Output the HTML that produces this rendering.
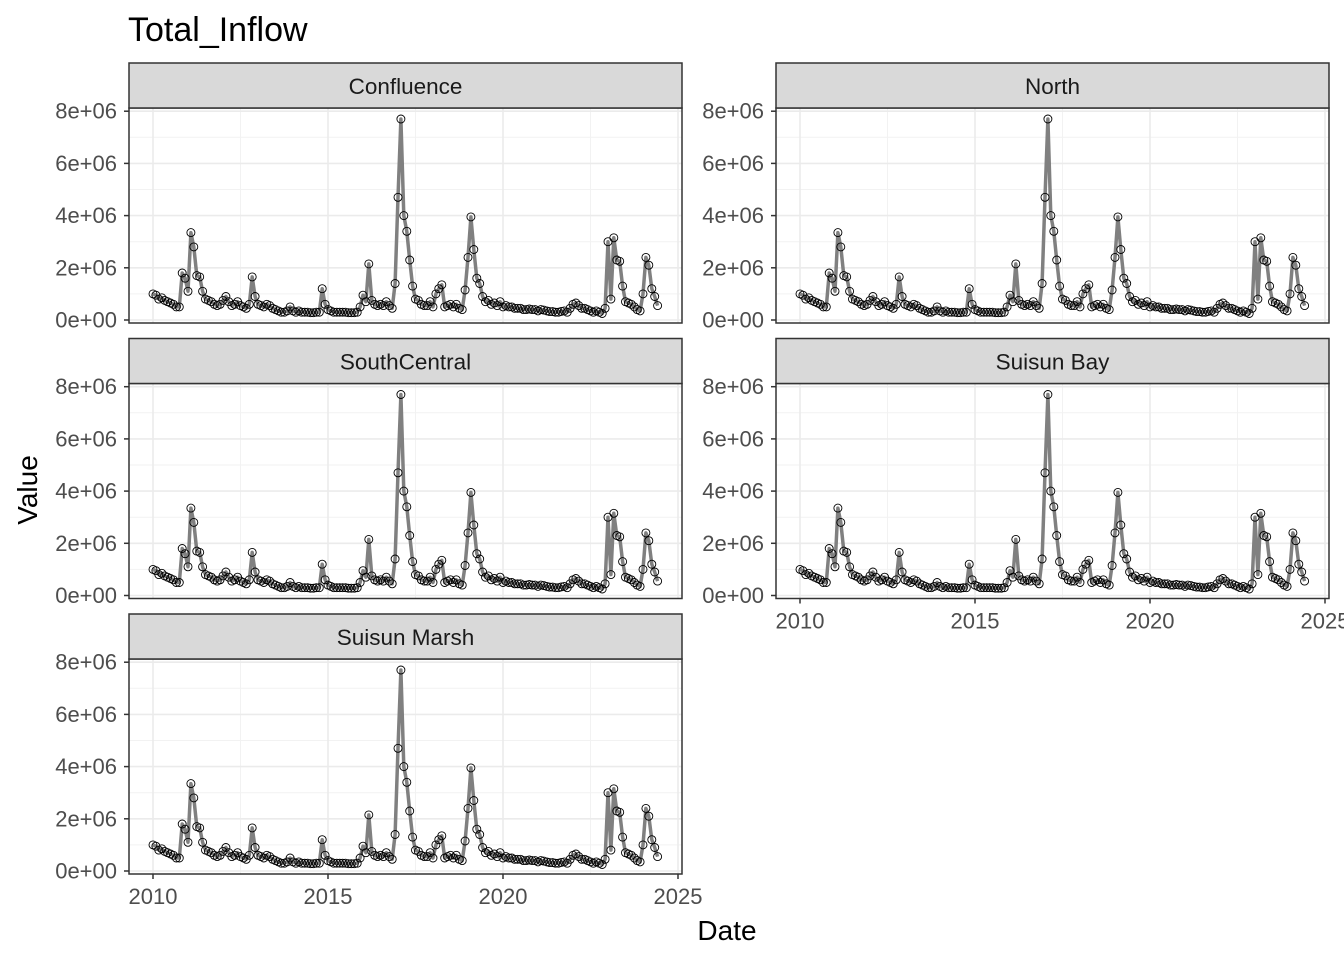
<!DOCTYPE html>
<html><head><meta charset="utf-8"><style>
body{margin:0;background:#fff}
svg text{font-family:"Liberation Sans",Arial,sans-serif}
</style></head><body>
<svg id="s" width="1344" height="960" xmlns="http://www.w3.org/2000/svg">
<rect width="1344" height="960" fill="#fff"/>
<text x="128" y="41" font-size="34" fill="#000">Total_Inflow</text>
<text x="727" y="940" font-size="28" text-anchor="middle" fill="#000">Date</text>
<text transform="translate(37,490) rotate(-90)" font-size="28" text-anchor="middle" fill="#000">Value</text>
<g id="g"></g>
</svg>
<script>
var d=[1.0,0.95,0.8,0.85,0.75,0.7,0.65,0.6,0.5,0.5,1.8,1.6,
1.1,3.35,2.8,1.7,1.65,1.1,0.8,0.75,0.7,0.6,0.55,0.6,
0.75,0.9,0.7,0.55,0.6,0.7,0.55,0.5,0.45,0.6,1.65,0.9,
0.6,0.55,0.5,0.6,0.55,0.45,0.4,0.35,0.3,0.3,0.35,0.5,
0.35,0.3,0.35,0.3,0.3,0.3,0.28,0.28,0.3,0.3,1.2,0.6,
0.4,0.35,0.3,0.3,0.3,0.3,0.3,0.28,0.28,0.28,0.3,0.5,
0.95,0.7,2.15,0.75,0.6,0.55,0.6,0.55,0.7,0.55,0.45,1.4,
4.7,7.7,4.0,3.4,2.3,1.3,0.8,0.75,0.6,0.55,0.55,0.7,
0.5,1.0,1.2,1.35,0.5,0.55,0.6,0.5,0.6,0.45,0.4,1.15,
2.4,3.95,2.7,1.6,1.4,0.9,0.7,0.75,0.6,0.65,0.55,0.7,
0.5,0.55,0.5,0.5,0.45,0.45,0.45,0.4,0.4,0.42,0.4,0.4,
0.35,0.4,0.38,0.35,0.32,0.32,0.3,0.3,0.33,0.35,0.3,0.45,
0.6,0.65,0.55,0.45,0.45,0.4,0.35,0.3,0.35,0.3,0.25,0.45,
3.0,0.8,3.15,2.3,2.25,1.3,0.7,0.65,0.6,0.5,0.4,0.35,
1.0,2.4,2.1,1.2,0.9,0.55];
var panels=[["Confluence",0,0],["North",647,0],["SouthCentral",0,275.5],["Suisun Bay",647,275.5],["Suisun Marsh",0,551]];
var h='';
panels.forEach(function(p){
 var ox=p[1],oy=p[2];
 var L=129+ox,R=682+ox,T=108+oy,B=323+oy;
 var X=function(t){return 153+ox+35*t},Y=function(v){return 320+oy-v*26.1};
 h+='<rect x="'+L+'" y="'+T+'" width="'+(R-L)+'" height="'+(B-T)+'" fill="#fff"/>';
 for(var v=1;v<8;v+=2)h+='<line x1="'+L+'" x2="'+R+'" y1="'+Y(v)+'" y2="'+Y(v)+'" stroke="#f2f2f2" stroke-width="1"/>';
 for(var t=2.5;t<15;t+=5)h+='<line y1="'+T+'" y2="'+B+'" x1="'+X(t)+'" x2="'+X(t)+'" stroke="#f2f2f2" stroke-width="1"/>';
 for(var v=0;v<=8;v+=2)h+='<line x1="'+L+'" x2="'+R+'" y1="'+Y(v)+'" y2="'+Y(v)+'" stroke="#ebebeb" stroke-width="1.6"/>';
 for(var t=0;t<=15;t+=5)if(X(t)<R)h+='<line y1="'+T+'" y2="'+B+'" x1="'+X(t)+'" x2="'+X(t)+'" stroke="#ebebeb" stroke-width="1.6"/>';
 var pts=d.map(function(v,i){return X(i/12).toFixed(1)+','+Y(v).toFixed(1)}).join(' ');
 h+='<polyline points="'+pts+'" fill="none" stroke="#808080" stroke-width="3.5" stroke-linejoin="round"/>';
 d.forEach(function(v,i){h+='<circle cx="'+X(i/12).toFixed(1)+'" cy="'+Y(v).toFixed(1)+'" r="4" fill="none" stroke="#000" stroke-width="0.9"/>'});
 h+='<rect x="'+L+'" y="'+T+'" width="'+(R-L)+'" height="'+(B-T)+'" fill="none" stroke="#333" stroke-width="1.5"/>';
 h+='<rect x="'+L+'" y="'+(T-45)+'" width="'+(R-L)+'" height="45" fill="#d9d9d9" stroke="#333" stroke-width="1.5"/>';
 h+='<text x="'+((L+R)/2)+'" y="'+(T-14)+'" font-size="22.5" text-anchor="middle" fill="#1a1a1a">'+p[0]+'</text>';
 for(var v=0;v<=8;v+=2){h+='<line x1="'+(L-5)+'" x2="'+L+'" y1="'+Y(v)+'" y2="'+Y(v)+'" stroke="#333" stroke-width="1.5"/>';
  h+='<text x="'+(L-12)+'" y="'+(Y(v)+7.5)+'" font-size="22" text-anchor="end" fill="#4d4d4d">'+v+'e+'+(v?'06':'00')+'</text>';}
 if(p[0]=="Suisun Bay"||p[0]=="Suisun Marsh"){
  for(var t=0;t<=15;t+=5){h+='<line y1="'+B+'" y2="'+(B+5)+'" x1="'+X(t)+'" x2="'+X(t)+'" stroke="#333" stroke-width="1.5"/>';
   h+='<text x="'+X(t)+'" y="'+(B+30)+'" font-size="22" text-anchor="middle" fill="#4d4d4d">'+(2010+t)+'</text>';}
 }
});
document.getElementById('g').innerHTML=h;
</script>
</body></html>
